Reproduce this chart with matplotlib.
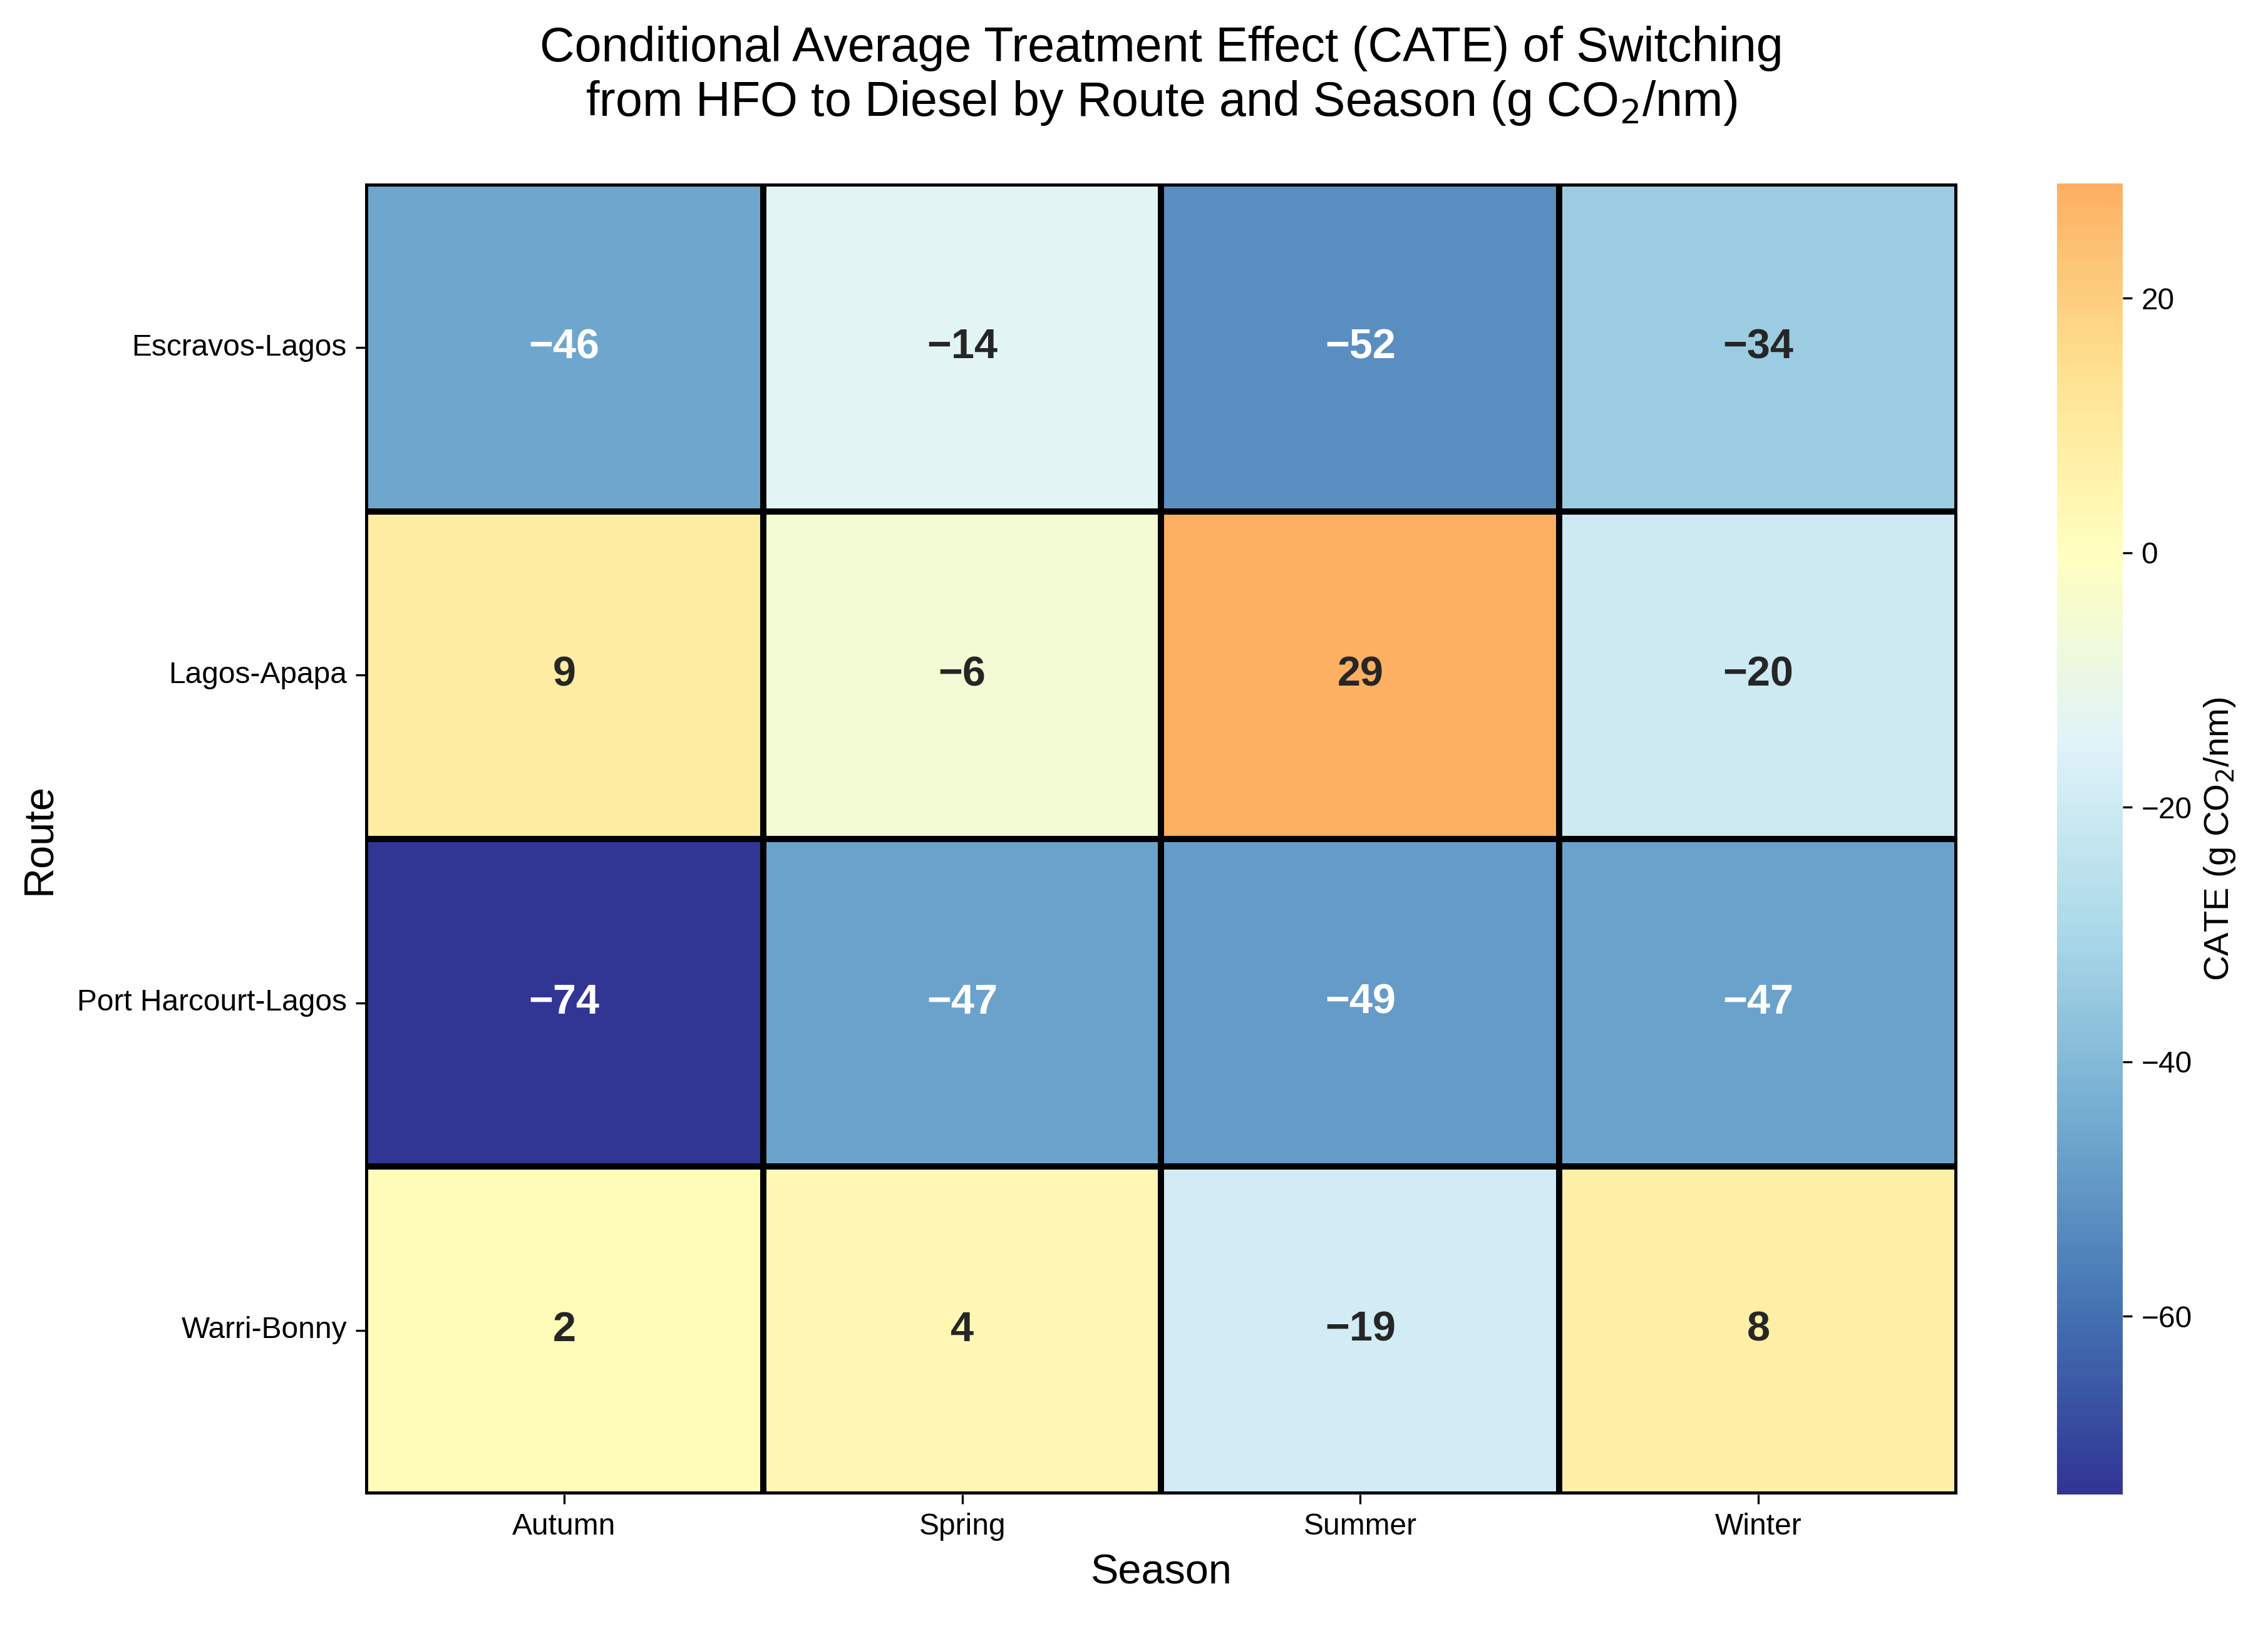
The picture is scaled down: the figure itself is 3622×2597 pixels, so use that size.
import numpy as np
import pandas as pd
import matplotlib
matplotlib.use("Agg")
import matplotlib.pyplot as plt
import seaborn as sns

plt.rcParams['font.family'] = ['Liberation Sans', 'DejaVu Sans']

# data
routes = ["Escravos-Lagos", "Lagos-Apapa", "Port Harcourt-Lagos", "Warri-Bonny"]
seasons = ["Autumn", "Spring", "Summer", "Winter"]
escravos_lagos = [-46, -14, -52, -34]
lagos_apapa = [9, -6, 29, -20]
port_harcourt_lagos = [-74, -47, -49, -47]
warri_bonny = [2, 4, -19, 8]

cate = pd.DataFrame([escravos_lagos, lagos_apapa, port_harcourt_lagos, warri_bonny],
                    index=routes, columns=seasons)

fig = plt.figure(figsize=(3622/300, 2597/300), dpi=300)
ax = fig.add_axes([0.161, 0.081, 0.702, 0.806])
cax = fig.add_axes([0.907, 0.081, 0.029, 0.806])

sns.heatmap(cate, ax=ax, cbar_ax=cax, cmap="RdYlBu_r", center=0,
            annot=True, fmt=".0f", linewidths=2, linecolor="black",
            annot_kws={"fontsize": 16, "fontweight": "bold"},
            cbar_kws={"label": "CATE (g CO$_2$/nm)"})

# use a proper minus sign in the cell labels
for t in ax.texts:
    t.set_text(t.get_text().replace("-", "\u2212"))

ax.set_title("Conditional Average Treatment Effect (CATE) of Switching\n"
             "from HFO to Diesel by Route and Season (g CO$_2$/nm)",
             fontsize=18.5, pad=26)
ax.set_xlabel("Season", fontsize=16, labelpad=5)
ax.set_ylabel("Route", fontsize=16, labelpad=7)
ax.tick_params(axis="both", labelsize=11.5)
plt.setp(ax.get_yticklabels(), rotation=0)
plt.setp(ax.get_xticklabels(), rotation=0)
cax.tick_params(labelsize=11.5)
cax.yaxis.label.set_size(13.5)

fig.savefig("out.png", dpi=300)
